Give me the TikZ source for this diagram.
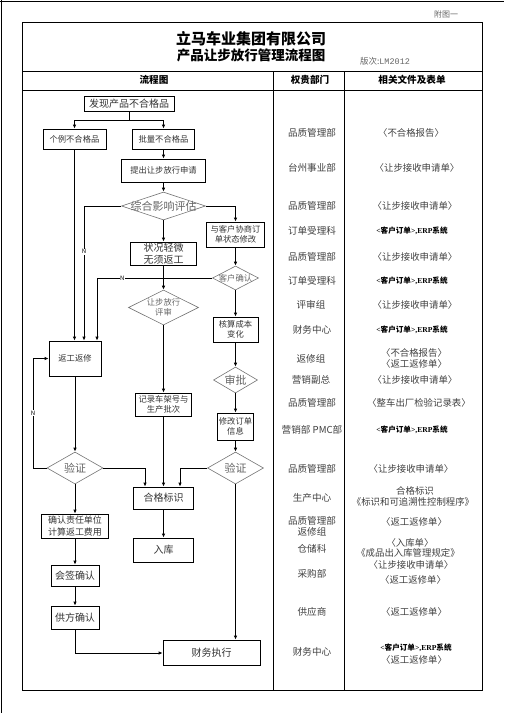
\documentclass[tikz,border=0pt]{standalone}
\usepackage{fontspec}
\setmainfont{Noto Sans CJK SC}
\newfontfamily\lser{Liberation Serif}
\newfontfamily\lmono{Liberation Mono}
\usetikzlibrary{shapes.geometric,arrows.meta}
\tikzset{
  box/.style={draw, line width=0.8pt, inner sep=0pt, align=center, text=black!80},
  dia/.style={draw=black!55, line width=0.6pt, diamond, inner sep=0pt},
  dtxt/.style={text=black!60, align=center},
  arr/.style={line width=0.8pt, -{Latex[length=4pt,width=3.5pt]}},
  ln/.style={line width=0.8pt},
  nlab/.style={fill=white, inner sep=0.6pt, font=\fontsize{6}{6}\selectfont},
  fa/.style={font=\fontsize{8.3}{10.6}\selectfont},
  fb/.style={font=\fontsize{10}{11.5}\selectfont},
  fc/.style={font=\fontsize{11}{12}\selectfont},
  dept/.style={font=\fontsize{9.6}{11}\selectfont, text=black!75},
  doc/.style={font=\fontsize{9.4}{11}\selectfont, text=black!75},
  erp/.style={font=\fontsize{7.6}{9}\bfseries\selectfont, text=black},
  frame/.style={line width=1pt}
}
\newcommand{\erptext}{{\lser\bfseries <}客户订单{\lser\bfseries >,ERP}系统}
\begin{document}
\begin{tikzpicture}[x=1pt,y=-1pt]
\useasboundingbox (0,0) rectangle (504,713);
% page border
\draw[line width=0.8pt] (1,0) -- (1,713);
\draw[line width=0.8pt] (0,1) -- (504,1);
% table
\draw[frame] (22,22) rectangle (482,690);
\draw[frame] (22,71) -- (482,71);
\draw[frame] (22,90) -- (482,90);
\draw[frame] (273,71) -- (273,690);
\draw[frame] (344,71) -- (344,690);
% titles
\node[font=\fontsize{8}{9}\selectfont, text=black!60] (fig) at (446,14) {附图一};
\node[font=\fontsize{15}{16}\bfseries\selectfont] (t1) at (251,39) {立马车业集团有限公司};
\node[font=\fontsize{13.5}{15}\bfseries\selectfont] (t2) at (251,55.5) {产品让步放行管理流程图};
\node[font=\fontsize{8.5}{10}\selectfont, text=black!60] (ver) at (385,61.5) {版次:{\lmono LM2012}};
\node[font=\fontsize{9.6}{11}\bfseries\selectfont] (h1) at (154,80) {流程图};
\node[font=\fontsize{9.6}{11}\bfseries\selectfont] (h2) at (310,80) {权贵部门};
\node[font=\fontsize{9.6}{11}\bfseries\selectfont] (h3) at (412,80) {相关文件及表单};

% flow nodes
\node[box, fb, minimum width=90, minimum height=15] (n1) at (129,104) {发现产品不合格品};
\node[box, fa, minimum width=63, minimum height=20] (n2) at (74.5,139) {个例不合格品};
\node[box, fa, minimum width=62, minimum height=20] (n3) at (163.5,139) {批量不合格品};
\node[box, fa, minimum width=84, minimum height=23] (n4) at (163.5,170.5) {提出让步放行申请};
\node[dia, minimum width=84, minimum height=28] (d1) at (163.5,206) {};
\node[dtxt, fc] (d1t) at (d1.center) {综合影响评估};
\node[box, fb, minimum width=66, minimum height=23] (n5) at (163.5,253.5) {状况轻微\\无须返工};
\node[box, fa, minimum width=58, minimum height=25] (n6) at (235.5,234.5) {与客户协商订\\单状态修改};
\node[dia, minimum width=46, minimum height=24] (d2) at (235.5,278) {};
\node[dtxt, fa] (d2t) at (d2.center) {客户确认};
\node[dia, minimum width=70, minimum height=35] (d3) at (163.5,307.5) {};
\node[dtxt, fa] (d3t) at (d3.center) {让步放行\\评审};
\node[box, fa, minimum width=45, minimum height=25] (n7) at (235.5,329.5) {核算成本\\变化};
\node[dia, minimum width=44, minimum height=26] (d4) at (235.5,380) {};
\node[dtxt, fc] (d4t) at (d4.center) {审批};
\node[box, fa, minimum width=36, minimum height=27] (n8) at (235.5,426.5) {修改订单\\信息};
\node[dia, minimum width=56, minimum height=32] (d5) at (235.5,468) {};
\node[dtxt, fc] (d5t) at (d5.center) {验证};
\node[box, fa, minimum width=56, minimum height=23] (n9) at (163.5,404.5) {记录车架号与\\生产批次};
\node[box, fa, minimum width=52, minimum height=35] (n10) at (75,358.5) {返工返修};
\node[dia, minimum width=56, minimum height=32] (d6) at (75,468) {};
\node[dtxt, fc] (d6t) at (d6.center) {验证};
\node[box, fb, minimum width=60, minimum height=22] (n11) at (163.5,498) {合格标识};
\node[box, fb, minimum width=60, minimum height=24] (n12) at (163.5,550) {入库};
\node[box, font=\fontsize{9}{11.5}\selectfont, minimum width=67, minimum height=24] (n13) at (75,526) {确认责任单位\\计算返工费用};
\node[box, fb, minimum width=48, minimum height=21] (n14) at (75,575.5) {会签确认};
\node[box, fb, minimum width=48, minimum height=23] (n15) at (75,617.5) {供方确认};
\node[box, fb, minimum width=97, minimum height=25] (n16) at (211.5,652.5) {财务执行};

% junction coordinates
\coordinate (j1) at (129,120);
\coordinate (j2) at (84,206);
\coordinate (j3) at (97,278);
\coordinate (j4) at (180,468);
\coordinate (j5) at (33,468);
\coordinate (j6) at (145,468);
\coordinate (j7) at (75,653);

% connectors
\draw[ln] (n1.south) -- (j1);
\draw[arr] (j1) -| (n2.north);
\draw[arr] (j1) -| (n3.north);
\draw[arr] (n3) -- (n4);
\draw[arr] (n4) -- (d1);
\draw[arr] (d1.west) -- (j2) -- (j2 |- n10.north) node[nlab, pos=0.34] (nN1) {N};
\draw[arr] (n2.south) -- (n2.south |- n10.north);
\draw[arr] (d1.east) -| (n6.north);
\draw[arr] (d1) -- (n5);
\draw[arr] (n6) -- (d2);
\draw[arr] (d2.west) -- (j3) node[nlab, pos=0.78] (nN2) {N} -- (j3 |- n10.north);
\draw[arr] (n5) -- (d3);
\draw[arr] (d2) -- (n7);
\draw[arr] (n7) -- (d4);
\draw[arr] (d4) -- (n8);
\draw[arr] (n8) -- (d5);
\draw[arr] (d3) -- (n9);
\draw[arr] (n9) -- (n11);
\draw[arr] (d5.west) -- (j4) -- (j4 |- n11.north);
\draw[arr] (d5.south) -- (d5.south |- n16.north);
\draw[arr] (n10) -- (d6);
\draw[arr] (d6.west) -- (j5) -- (j5 |- n10.west) node[nlab, pos=0.5] (nN3) {N} -- (n10.west);
\draw[arr] (d6.east) -- (j6) -- (j6 |- n11.north);
\draw[arr] (d6) -- (n13);
\draw[arr] (n11) -- (n12);
\draw[arr] (n13) -- (n14);
\draw[arr] (n14) -- (n15);
\draw[arr] (n15.south) -- (j7) -- (j7 -| n16.west);

% department column
\node[dept] (p1) at (312,133) {品质管理部};
\node[dept] (p2) at (312,168) {台州事业部};
\node[dept] (p3) at (312,206) {品质管理部};
\node[dept] (p4) at (312,231) {订单受理科};
\node[dept] (p5) at (312,257) {品质管理部};
\node[dept] (p6) at (312,281) {订单受理科};
\node[dept] (p7) at (311,305) {评审组};
\node[dept] (p8) at (312,330) {财务中心};
\node[dept] (p9) at (311,359) {返修组};
\node[dept] (p10) at (311,380) {营销副总};
\node[dept] (p11) at (312,403) {品质管理部};
\node[dept] (p12) at (312,430) {营销部 PMC部};
\node[dept] (p13) at (312,469) {品质管理部};
\node[dept] (p14) at (312,498) {生产中心};
\node[dept] (p15) at (312,521) {品质管理部};
\node[dept] (p16) at (312,532) {返修组};
\node[dept] (p17) at (312,549) {仓储科};
\node[dept] (p18) at (312,574) {采购部};
\node[dept] (p19) at (312,612) {供应商};
\node[dept] (p20) at (312,652) {财务中心};

% document column
\node[doc] (r1) at (411,133) {〈不合格报告〉};
\node[doc] (r2) at (417,168) {〈让步接收申请单〉};
\node[doc] (r3) at (415,206) {〈让步接收申请单〉};
\node[erp] (r4) at (412,231) {\erptext};
\node[doc] (r5) at (415,257) {〈让步接收申请单〉};
\node[erp] (r6) at (412,281) {\erptext};
\node[doc] (r7) at (415,305) {〈让步接收申请单〉};
\node[erp] (r8) at (412,330) {\erptext};
\node[doc] (r9) at (414,353) {〈不合格报告〉};
\node[doc] (r10) at (414,364) {〈返工返修单〉};
\node[doc] (r11) at (415,380) {〈让步接收申请单〉};
\node[doc] (r12) at (419,403) {〈整车出厂检验记录表〉};
\node[erp] (r13) at (412,430) {\erptext};
\node[doc] (r14) at (411,469) {〈让步接收申请单〉};
\node[doc] (r15) at (415,491) {合格标识};
\node[doc] (r16) at (413,502) {《标识和可追溯性控制程序》};
\node[doc] (r17) at (414,522) {〈返工返修单〉};
\node[doc] (r18) at (410,543) {〈入库单〉};
\node[doc] (r19) at (408,553) {《成品出入库管理规定》};
\node[doc] (r20) at (411,565) {〈让步接收申请单〉};
\node[doc] (r21) at (413,580) {〈返工返修单〉};
\node[doc] (r22) at (414,612) {〈返工返修单〉};
\node[erp] (r23) at (416,648) {\erptext};
\node[doc] (r24) at (414,660) {〈返工返修单〉};
\end{tikzpicture}
\end{document}
